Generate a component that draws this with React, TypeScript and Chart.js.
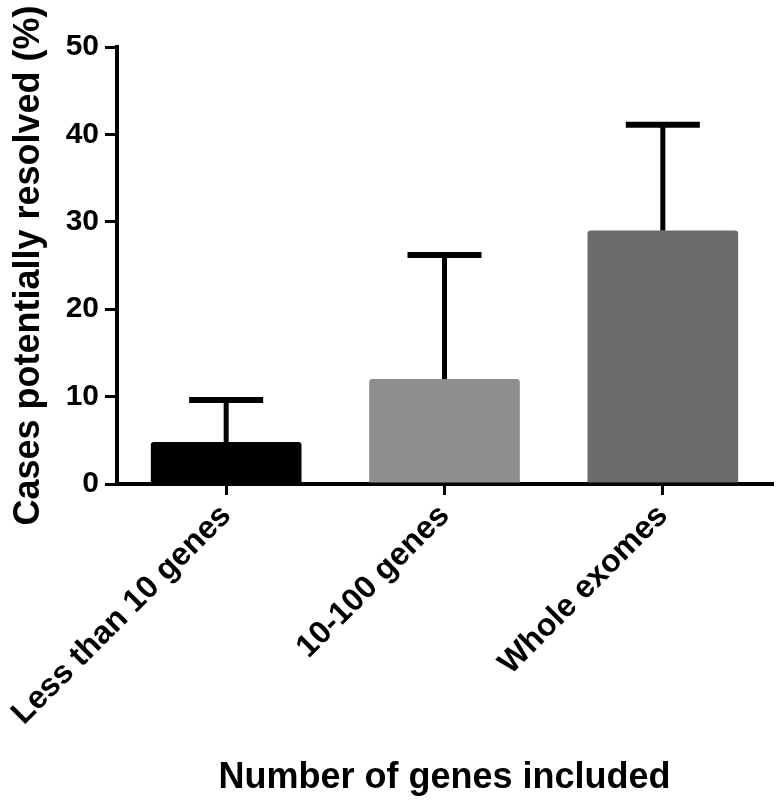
import React, { useEffect, useRef } from "react";
import { Chart, registerables } from "chart.js";

Chart.register(...registerables);

const categories = ["Less than 10 genes", "10-100 genes", "Whole exomes"];
const values = [4.8, 12.0, 29.0];
const errors = [4.8, 14.2, 12.1];
const barColors = ["#000000", "#8e8e8e", "#6b6b6b"];
const yTicks = [0, 10, 20, 30, 40, 50];

const FONT = "'Liberation Sans', Arial, sans-serif";

const errorBarPlugin = {
  id: "errorBars",
  afterDatasetsDraw(chart: any) {
    const ctx = chart.ctx;
    const meta = chart.getDatasetMeta(0);
    const yScale = chart.scales.y;
    ctx.save();
    ctx.strokeStyle = "#000";
    meta.data.forEach((bar: any, i: number) => {
      const x = bar.x;
      const yBase = yScale.getPixelForValue(values[i]);
      const yTop = yScale.getPixelForValue(values[i] + errors[i]);
      ctx.lineWidth = 5;
      ctx.beginPath();
      ctx.moveTo(x, yBase);
      ctx.lineTo(x, yTop);
      ctx.stroke();
      ctx.lineWidth = 6;
      ctx.beginPath();
      ctx.moveTo(x - 37, yTop);
      ctx.lineTo(x + 37, yTop);
      ctx.stroke();
    });
    ctx.restore();
  },
};

export default function App() {
  const ref = useRef<HTMLCanvasElement>(null);
  useEffect(() => {
    document.body.style.margin = "0";
    const chart = new Chart(ref.current!, {
      type: "bar",
      data: {
        labels: categories,
        datasets: [
          {
            data: values,
            backgroundColor: barColors,
            borderRadius: 3,
            borderSkipped: "bottom",
            categoryPercentage: 0.69,
            barPercentage: 1,
          },
        ],
      },
      options: {
        animation: false,
        responsive: false,
        layout: { padding: { top: 47, right: 5, bottom: 0, left: 0 } },
        plugins: { legend: { display: false }, tooltip: { enabled: false } },
        scales: {
          x: {
            grid: {
              offset: false,
              drawOnChartArea: false,
              drawTicks: true,
              tickLength: 11,
              color: "#000",
              lineWidth: 3,
            },
            border: { color: "#000", width: 4 },
            ticks: {
              color: "#000",
              font: { family: FONT, size: 32, weight: "bold" },
              minRotation: 45,
              maxRotation: 45,
              autoSkip: false,
              padding: 2,
            },
            title: {
              display: true,
              text: "Number of genes included",
              color: "#000",
              padding: { top: 0, bottom: 0 },
              font: { family: FONT, size: 36, weight: "bold" },
            },
            afterFit: (s: any) => {
              s.height = 316;
              s.paddingLeft = 0;
              s.paddingRight = 0;
            },
          },
          y: {
            min: 0,
            max: 50,
            afterBuildTicks: (s: any) => {
              s.ticks = yTicks.map((v) => ({ value: v }));
            },
            grid: {
              drawOnChartArea: false,
              drawTicks: true,
              tickLength: 12,
              color: "#000",
              lineWidth: 3,
            },
            border: { color: "#000", width: 4 },
            ticks: {
              color: "#000",
              font: { family: FONT, size: 30, weight: "bold" },
              padding: 6,
            },
            title: {
              display: true,
              text: "Cases potentially resolved (%)",
              color: "#000",
              padding: { top: 7, bottom: 0 },
              font: { family: FONT, size: 36, weight: "bold" },
            },
            afterFit: (s: any) => {
              s.width = 117;
              s.paddingTop = 0;
              s.paddingBottom = 0;
            },
          },
        },
      },
      plugins: [errorBarPlugin],
    });
    return () => chart.destroy();
  }, []);
  return <canvas ref={ref} width={777} height={800} />;
}
